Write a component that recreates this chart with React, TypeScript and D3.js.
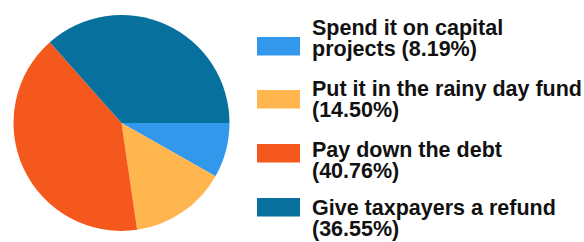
import React from "react";
import * as d3 from "d3";

const categories = [
  "Spend it on capital projects",
  "Put it in the rainy day fund",
  "Pay down the debt",
  "Give taxpayers a refund",
];
const values = [8.19, 14.5, 40.76, 36.55];
const colors = ["#3198ec", "#ffb64f", "#f4581c", "#07709c"];
const labelLines = [
  ["Spend it on capital", "projects (8.19%)"],
  ["Put it in the rainy day fund", "(14.50%)"],
  ["Pay down the debt", "(40.76%)"],
  ["Give taxpayers a refund", "(36.55%)"],
];

const W = 584;
const H = 242;
const cx = 121.5;
const cy = 123;
const R = 108;

const swatchY = [37, 90, 144, 198];
const textY = [34.5, 95.5, 156.5, 214.5];

export default function App() {
  const data = categories.map((c, i) => ({ c, v: values[i], i }));
  const pie = d3
    .pie<any>()
    .sort(null)
    .value((d) => d.v)
    .startAngle(Math.PI / 2)
    .endAngle(Math.PI / 2 + 2 * Math.PI);
  const arc = d3.arc<any>().innerRadius(0).outerRadius(R);
  const arcs = pie(data);

  return (
    <svg
      width={W}
      height={H}
      style={{ position: "absolute", left: 0, top: 0, display: "block", background: "#fff" }}
    >
      <g transform={`translate(${cx},${cy})`}>
        {arcs.map((a, i) => (
          <path key={i} d={arc(a) as string} fill={colors[i]} />
        ))}
      </g>
      <g>
        {categories.map((c, i) => (
          <g key={c}>
            <rect x={257} y={swatchY[i]} width={43} height={18.5} fill={colors[i]} />
            <text
              x={312}
              y={textY[i]}
              fontFamily="'Liberation Sans', Arial, sans-serif"
              fontWeight="bold"
              fontSize={21.5}
              fill="#111"
            >
              {labelLines[i].map((l, j) => (
                <tspan key={j} x={312} dy={j === 0 ? 0 : 21.5}>
                  {l}
                </tspan>
              ))}
            </text>
          </g>
        ))}
      </g>
    </svg>
  );
}
